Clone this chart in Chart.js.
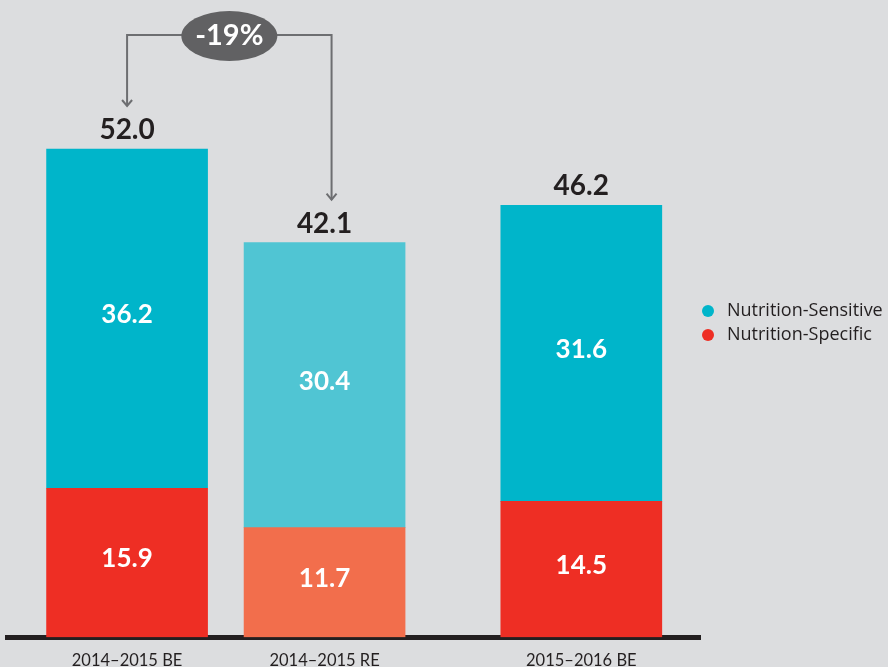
<!DOCTYPE html>
<html>
<head>
<meta charset="utf-8">
<script src="https://cdn.jsdelivr.net/npm/chart.js@4"></script>
<style>
  html, body { margin: 0; padding: 0; background: #dcdddf; }
  #wrap { width: 888px; height: 667px; }
</style>
</head>
<body>
<div id="wrap"><canvas id="barChart"></canvas></div>
<script>
const categories = ["2014–2015 BE", "2014–2015 RE", "2015–2016 BE"];
const slots = [0, 1, 2.3]; // where each bar sits along the x axis
const specific = [15.9, 11.7, 14.5];
const sensitive = [36.2, 30.4, 31.6];
const totals = [52.0, 42.1, 46.2];
const change = "-19%";

const sensitiveColors = ["#00b5ca", "#50c5d3", "#00b5ca"];
const specificColors = ["#ee2e24", "#f26e4c", "#ee2e24"];
const FONT = "Lato, 'Open Sans', sans-serif";
const DARK = "#231f20";

// labels, totals, the -19% bracket and the legend
const overlay = {
  id: "overlay",
  afterDatasetsDraw(chart) {
    const ctx = chart.ctx;
    const spec = chart.getDatasetMeta(0).data;
    const sens = chart.getDatasetMeta(1).data;
    ctx.save();
    ctx.textAlign = "center";
    ctx.textBaseline = "middle";

    // values inside the bars
    ctx.fillStyle = "#fff";
    ctx.font = "bold 26px " + FONT;
    spec.forEach((bar, i) => {
      ctx.fillText(specific[i].toFixed(1), bar.x, (bar.y + bar.base) / 2 - 4);
    });
    sens.forEach((bar, i) => {
      ctx.fillText(sensitive[i].toFixed(1), bar.x, (bar.y + bar.base) / 2 - 4);
    });

    // totals above
    ctx.fillStyle = DARK;
    ctx.font = "bold 28px " + FONT;
    sens.forEach((bar, i) => {
      ctx.fillText(totals[i].toFixed(1), bar.x, bar.y - 19);
    });

    // bracket with arrows
    const xl = sens[0].x, xr = sens[1].x + 7;
    const topY = 35;
    const tipL = sens[0].y - 43, tipR = sens[1].y - 43;
    ctx.strokeStyle = "#6d6e71";
    ctx.lineWidth = 2;
    ctx.beginPath();
    ctx.moveTo(xl, tipL);
    ctx.lineTo(xl, topY);
    ctx.lineTo(xr, topY);
    ctx.lineTo(xr, tipR);
    ctx.stroke();
    [[xl, tipL], [xr, tipR]].forEach(([x, y]) => {
      ctx.beginPath();
      ctx.moveTo(x - 5, y - 6);
      ctx.lineTo(x, y);
      ctx.lineTo(x + 5, y - 6);
      ctx.stroke();
    });
    const cx = (xl + xr) / 2;
    ctx.fillStyle = "#616163";
    ctx.beginPath();
    ctx.ellipse(cx, topY + 1, 48, 25, 0, 0, Math.PI * 2);
    ctx.fill();
    ctx.fillStyle = "#fff";
    ctx.font = "bold 29px " + FONT;
    ctx.fillText(change, cx, topY + 1);

    // legend
    const legend = [["Nutrition-Sensitive", sensitiveColors[0]], ["Nutrition-Specific", specificColors[0]]];
    ctx.textAlign = "left";
    ctx.font = "18px 'Open Sans', sans-serif";
    legend.forEach(([label, color], i) => {
      const y = 311 + i * 24;
      ctx.fillStyle = color;
      ctx.beginPath();
      ctx.arc(708, y, 6, 0, Math.PI * 2);
      ctx.fill();
      ctx.fillStyle = DARK;
      ctx.fillText(label, 727, y);
    });
    ctx.restore();
  }
};

var ctx = document.getElementById("barChart").getContext("2d");
var myChart = new Chart(ctx, {
  type: "bar",
  data: {
    datasets: [
      {
        label: "Nutrition-Specific",
        data: slots.map((x, i) => ({ x: x, y: specific[i] })),
        backgroundColor: specificColors,
        barThickness: 161,
      },
      {
        label: "Nutrition-Sensitive",
        data: slots.map((x, i) => ({ x: x, y: sensitive[i] })),
        backgroundColor: sensitiveColors,
        barThickness: 161,
      },
    ],
  },
  options: {
    responsive: true,
    maintainAspectRatio: false,
    animation: false,
    layout: { padding: { left: 7, right: 188, top: 0, bottom: -18 } },
    plugins: { legend: { display: false }, tooltip: { enabled: false } },
    scales: {
      x: {
        type: "linear",
        stacked: true,
        offset: false,
        min: -0.608,
        max: 2.901,
        grid: { display: false, drawTicks: false },
        border: { display: true, color: DARK, width: 5 },
        afterBuildTicks: (axis) => {
          axis.ticks = slots.map((v) => ({ value: v }));
        },
        ticks: {
          autoSkip: false,
          maxRotation: 0,
          padding: 14,
          color: DARK,
          font: { family: FONT, size: 16.5 },
          callback: (value, index) => categories[index],
        },
      },
      y: {
        stacked: true,
        display: false,
        min: 0,
        max: 68,
      },
    },
  },
  plugins: [overlay],
});
</script>
</body>
</html>
